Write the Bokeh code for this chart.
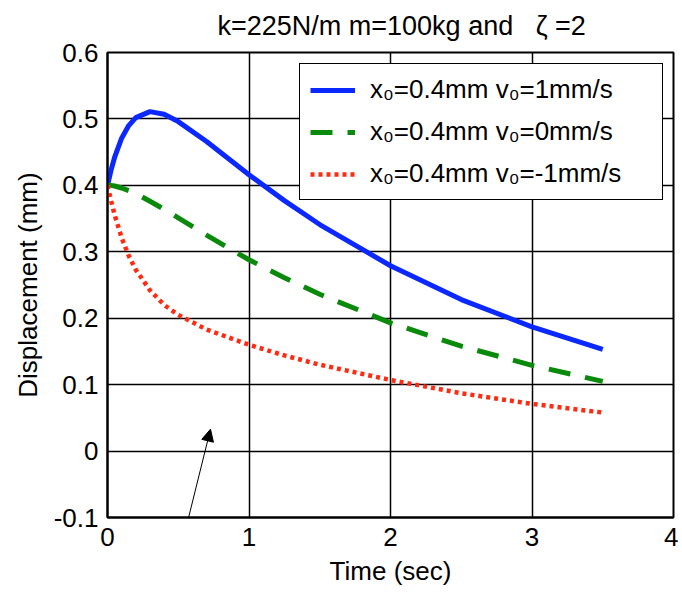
from bokeh.plotting import figure
from bokeh.models import (FixedTicker, NumeralTickFormatter, Legend, LegendItem,
                          Arrow, NormalHead, Range1d)
from bokeh.embed import file_html
from bokeh.resources import INLINE

# ---------------- data ----------------
title_text = "k=225N/m m=100kg and\u00a0\u00a0\u00a0\u03b6 =2"
x_label = "Time (sec)"
y_label = "Displacement (mm)"

time_s = [0, 0.025, 0.05, 0.1, 0.15, 0.2, 0.3, 0.4, 0.5, 0.7, 1.0, 1.25, 1.5, 2.0, 2.5, 3.0, 3.5]
disp_v_pos = [0.400, 0.423, 0.442, 0.471, 0.490, 0.502, 0.511, 0.507, 0.496, 0.466, 0.416, 0.377, 0.341, 0.279, 0.228, 0.187, 0.153]
disp_v_zero = [0.400, 0.400, 0.399, 0.396, 0.392, 0.388, 0.376, 0.364, 0.351, 0.325, 0.288, 0.261, 0.236, 0.193, 0.158, 0.129, 0.105]
disp_v_neg = [0.400, 0.377, 0.356, 0.321, 0.294, 0.273, 0.242, 0.220, 0.205, 0.183, 0.160, 0.144, 0.130, 0.107, 0.087, 0.071, 0.058]

series_labels = ["x\u2080=0.4mm v\u2080=1mm/s",
                 "x\u2080=0.4mm v\u2080=0mm/s",
                 "x\u2080=0.4mm v\u2080=-1mm/s"]

x_ticks = [0, 1, 2, 3, 4]
y_ticks = [-0.1, 0, 0.1, 0.2, 0.3, 0.4, 0.5, 0.6]

# annotation arrow (data units)
arrow_start = (0.438, -0.216)
arrow_end = (0.728, 0.033)

FONT = "Liberation Sans"
FS = "26px"

p = figure(width=678, height=594,
           x_range=Range1d(0, 4), y_range=Range1d(-0.1, 0.6),
           output_backend="svg", toolbar_location=None,
           min_border_left=107, min_border_right=5,
           min_border_top=51, min_border_bottom=77)

p.title.text = title_text
p.title.align = "left"
p.title.offset = 110
p.title.text_font = FONT
p.title.text_font_size = "27px"
p.title.text_font_style = "normal"
p.title.text_color = "black"
p.title.vertical_align = "top"
p.title.standoff = 20

p.xaxis.ticker = FixedTicker(ticks=x_ticks)
p.yaxis.ticker = FixedTicker(ticks=y_ticks)
p.xaxis.formatter = NumeralTickFormatter(format="0")
p.yaxis.formatter = NumeralTickFormatter(format="0.[0]")
p.xaxis.axis_label = x_label
p.yaxis.axis_label = y_label

for ax in (p.xaxis, p.yaxis):
    ax.major_label_text_font = FONT
    ax.major_label_text_font_size = FS
    ax.major_label_text_color = "black"
    ax.axis_label_text_font = FONT
    ax.axis_label_text_font_size = FS
    ax.axis_label_text_font_style = "normal"
    ax.axis_label_text_color = "black"
    ax.major_tick_out = 0
    ax.major_tick_in = 0
    ax.minor_tick_out = 0
    ax.minor_tick_in = 0
    ax.axis_line_color = "black"
    ax.axis_line_width = 2
p.xaxis.major_label_standoff = 10
p.xaxis.axis_label_standoff = 7
p.yaxis.major_label_standoff = 9
p.yaxis.axis_label_standoff = 8

p.grid.grid_line_color = "black"
p.grid.grid_line_width = 1.5
p.grid.grid_line_alpha = 1.0
p.outline_line_color = "black"
p.outline_line_width = 2
p.outline_line_alpha = 1.0

r1 = p.line(time_s, disp_v_pos, line_color="#0a28ff", line_width=5)
r2 = p.line(time_s, disp_v_zero, line_color="#0a8a0a", line_width=5, line_dash="22 15")
r3 = p.line(time_s, disp_v_neg, line_color="#ff2a10", line_width=4.5, line_dash="4 4")

legend = Legend(items=[LegendItem(label=series_labels[0], renderers=[r1]),
                       LegendItem(label=series_labels[1], renderers=[r2]),
                       LegendItem(label=series_labels[2], renderers=[r3])],
                location=(192, 317),
                border_line_color="black", border_line_width=1.5, border_line_alpha=1,
                background_fill_color="white", background_fill_alpha=1,
                padding=10, spacing=11, margin=0,
                glyph_width=45, glyph_height=28, label_height=28, label_width=282,
                label_standoff=15,
                label_text_font=FONT, label_text_font_size=FS, label_text_color="black")
p.add_layout(legend)

p.add_layout(Arrow(end=NormalHead(size=12, fill_color="black", line_color="black", line_width=1),
                   x_start=arrow_start[0], y_start=arrow_start[1],
                   x_end=arrow_end[0], y_end=arrow_end[1],
                   line_color="black", line_width=1))

open("out.html", "w").write(file_html(p, INLINE))
